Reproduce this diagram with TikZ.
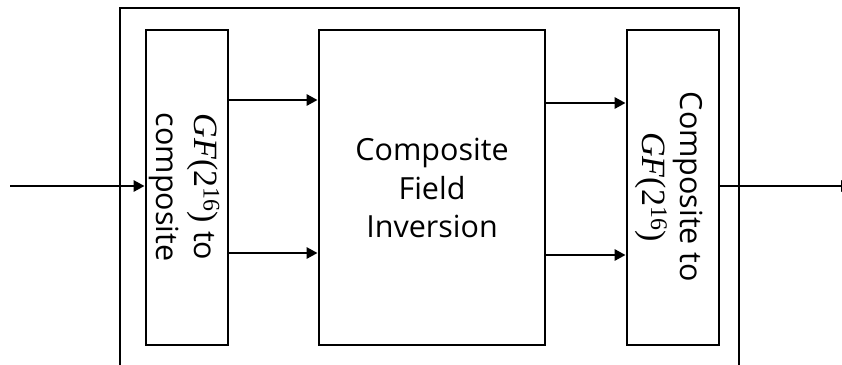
\documentclass[tikz,border=0pt]{standalone}
\usepackage{fontspec}
\setmainfont{Open Sans}
\newfontfamily\fieldfont{Liberation Serif}
\newcommand{\gfield}{{\fieldfont\fontsize{34}{38.5}\selectfont\textit{GF}(2\textsuperscript{16})}}
\usetikzlibrary{arrows.meta}
\begin{document}
\begin{tikzpicture}[x=1pt,y=-1pt,
  blk/.style={draw, line width=2.8pt, inner sep=0pt},
  lbl/.style={align=center, inner sep=0pt, font=\fontsize{30.5}{38.5}\selectfont},
  arr/.style={line width=2.9pt, -{Triangle[length=11pt,width=11pt]}},
]
\clip (0,0) rectangle (842,364);
% outer frame (runs past the lower edge)
\node[blk, minimum width=619pt, minimum height=370pt] (frame) at (429.5,193) {};
% the three stages
\node[blk, minimum width=82pt, minimum height=315pt] (lb) at (187,187.5) {};
\node[blk, minimum width=226pt, minimum height=315pt] (mb) at (432,187.5) {};
\node[blk, minimum width=92pt, minimum height=315pt] (rb) at (673,187.5) {};
% stage labels
\node[lbl, rotate=-90] (lbt) at (184,187) {\gfield{} to\\composite};
\node[lbl] (mbt) at (432,188) {Composite\\Field\\Inversion};
\node[lbl, rotate=-90] (rbt) at (669,187) {Composite to\\\gfield};
% signal end points
\coordinate (src) at (10,186);
\coordinate (dst) at (852,186);
% connectors
\draw[arr] (src) -- (lb.west |- src);
\draw[arr] (lb.east |- 0,100) -- (mb.west |- 0,100);
\draw[arr] (lb.east |- 0,253) -- (mb.west |- 0,253);
\draw[arr] (mb.east |- 0,103) -- (rb.west |- 0,103);
\draw[arr] (mb.east |- 0,255) -- (rb.west |- 0,255);
\draw[arr] (rb.east |- dst) -- (dst);
\end{tikzpicture}
\end{document}
